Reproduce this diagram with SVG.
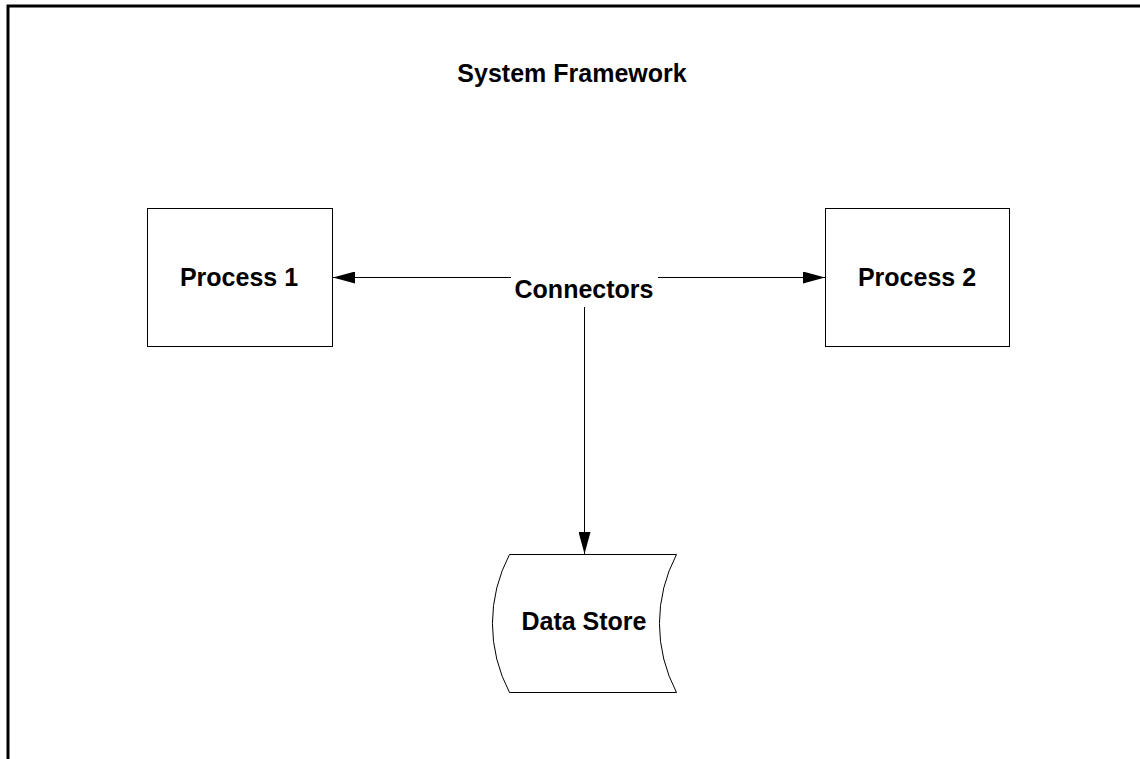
<svg xmlns="http://www.w3.org/2000/svg" width="1140" height="759" viewBox="0 0 1140 759">
<style>
.t{font-family:"Liberation Sans",Arial,sans-serif;font-weight:bold;font-size:25px;fill:#000;text-anchor:middle}
.n{fill:#fff;stroke:#000;stroke-width:1}
.c{stroke:#000;stroke-width:1;fill:none}
</style>
<defs>
<marker id="ah" viewBox="0 0 22 12" refX="22" refY="6" markerWidth="22" markerHeight="12" markerUnits="userSpaceOnUse" orient="auto">
<path d="M0,0 L22,6 L0,12 Z" fill="#000"/>
</marker>
</defs>
<rect width="1140" height="759" fill="#fff"/>
<rect id="frame" x="8" y="6" width="1150" height="780" fill="none" stroke="#000" stroke-width="3"/>
<g id="title"><text class="t" x="572" y="82">System Framework</text></g>
<g id="process1"><rect class="n" x="147.5" y="208.5" width="185" height="138"/><text class="t" x="239" y="286">Process 1</text></g>
<g id="process2"><rect class="n" x="825.5" y="208.5" width="184" height="138"/><text class="t" x="917" y="286">Process 2</text></g>
<g id="datastore"><path class="n" d="M509.5,554.5 L676.5,554.5 A148,148 0 0 0 676.5,692.5 L509.5,692.5 A148,148 0 0 1 509.5,554.5 Z"/><text class="t" x="584" y="630">Data Store</text></g>
<g id="connectors">
<text class="t" x="584" y="298">Connectors</text>
<line class="c" x1="511" y1="277.5" x2="333" y2="277.5" marker-end="url(#ah)"/>
<line class="c" x1="658" y1="277.5" x2="825" y2="277.5" marker-end="url(#ah)"/>
<line class="c" x1="584.5" y1="307" x2="584.5" y2="554" marker-end="url(#ah)"/>
</g>
</svg>
